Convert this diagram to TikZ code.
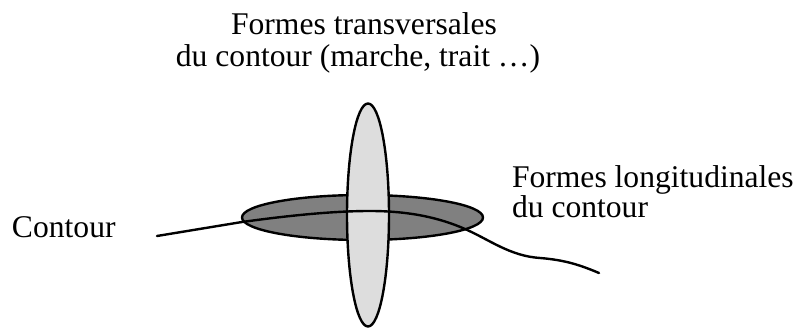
\documentclass[tikz,border=0pt]{standalone}
\usepackage{fontspec}
\setmainfont{Liberation Serif}
\begin{document}
\begin{tikzpicture}[x=1pt,y=-1pt,
  lbl/.style={inner sep=0pt,outer sep=0pt,font=\fontsize{31.6}{30}\selectfont},
  shp/.style={draw=black,line width=2.4pt}]
\useasboundingbox (0,0) rectangle (798,328);
\fill[white] (0,0) rectangle (798,328);
% longitudinal (horizontal) ellipse
\draw[shp,fill={rgb,255:red,128;green,128;blue,128}] (362.5,217.5) ellipse [x radius=120.5,y radius=22.5];
% transversal (vertical) ellipse
\draw[shp,fill={rgb,255:red,221;green,221;blue,221}] (368,215) ellipse [x radius=21,y radius=111.5];
% contour line
\draw[line width=2.4pt,line cap=round]
  (157,236) -- (242,222)
  .. controls (300,214) and (340,211) .. (370,211)
  .. controls (410,211) and (440,218) .. (465,229)
  .. controls (490,240) and (510,256) .. (540,258)
  .. controls (565,260) and (580,265) .. (599,273);
% labels
\node[lbl,anchor=base west] (contour) at (12,238) {Contour};
\node[lbl,anchor=base west] (long1) at (512,188) {Formes longitudinales};
\node[lbl,anchor=base west] (long2) at (512,218) {du contour};
\node[lbl,anchor=base] (trans1) at (364,35) {Formes transversales};
\node[lbl,anchor=base] (trans2) at (358,67) {du contour (marche, trait …)};
\end{tikzpicture}
\end{document}
